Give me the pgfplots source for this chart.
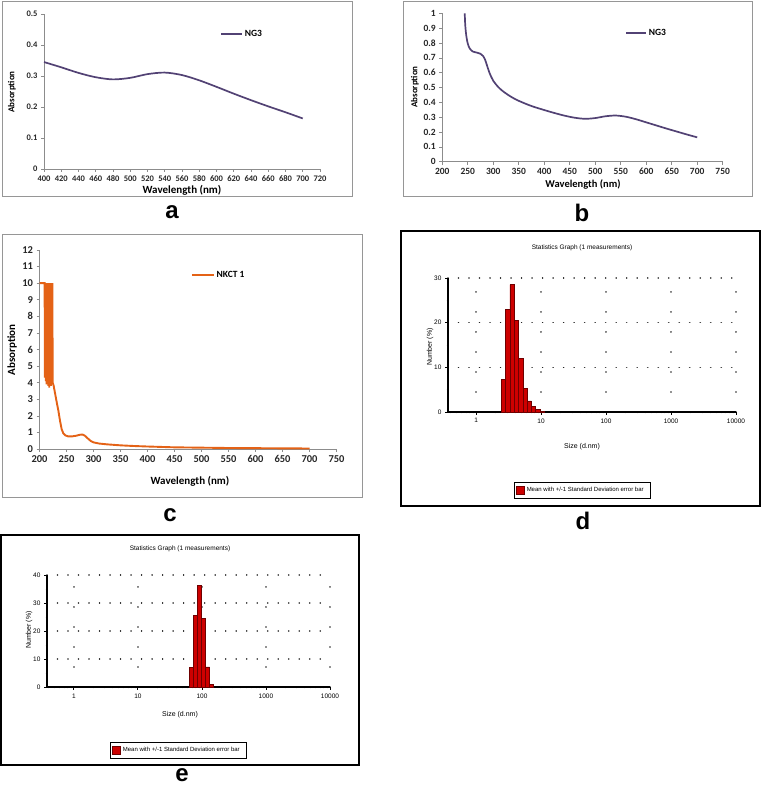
\documentclass[border=0pt]{standalone}
\usepackage{fontspec}
\setmainfont{Carlito}
\newfontfamily\arialfont{Liberation Sans}
\usepackage{pgfplots}
\pgfplotsset{compat=1.18}
\definecolor{ngpurple}{RGB}{82,66,116}
\definecolor{nkorange}{RGB}{228,98,22}
\definecolor{framegray}{RGB}{150,150,150}
\definecolor{axgray}{RGB}{140,140,140}
\definecolor{barred}{RGB}{205,0,0}
\definecolor{bardark}{RGB}{110,0,0}
\pgfplotsset{
  excel/.style={scale only axis, anchor=south west, axis lines*=left,
    axis line style={axgray, line width=0.8pt, -},
    tick align=outside, major tick length=3pt,
    tick style={axgray, line width=0.6pt},
    /pgf/number format/assume math mode=true,
    ticklabel style={text=black!85},
    legend style={draw=none, fill=none, inner sep=0pt, anchor=west},
    clip=false},
  dls/.style={scale only axis, anchor=south west, axis lines*=left,
    axis line style={black, line width=1.5pt, -},
    xtick={1,10,100,1000,10000}, xticklabels={1,10,100,1000,10000},
    minor xtick={0.4,0.5,0.6,0.7,0.8,0.9,2,3,4,5,6,7,8,9,20,30,40,50,60,70,80,90,200,300,400,500,600,700,800,900,2000,3000,4000,5000,6000,7000,8000,9000},
    tick align=outside, major tick length=3pt, minor tick length=1.5pt,
    tick style={black, line width=0.9pt},
    /pgf/number format/assume math mode=true,
    ticklabel style={font=\arialfont\fontsize{6.5}{7}\selectfont},
    grid=major,
    x grid style={black!85, line width=1.6pt, line cap=round, dash pattern=on 0.01pt off 20pt},
    y grid style={black!85, line width=1.6pt, line cap=round, dash pattern=on 0.01pt off 10.5pt},
    legend style={draw=black, line width=1pt, fill=white, anchor=center, inner xsep=2pt, inner ysep=3pt,
      font=\arialfont\fontsize{6}{7}\selectfont},
    clip=false}
}
\begin{document}
\begin{tikzpicture}[x=1pt,y=1pt]
\useasboundingbox (0,0) rectangle (761,786);
% frames
\draw[framegray, line width=1pt] (2,784) rectangle (352,589);
\draw[framegray, line width=1pt] (403,784) rectangle (752,589);
\draw[framegray, line width=1pt] (2,551) rectangle (362,288);
\draw[black, line width=1.6pt] (401,555) rectangle (760,280);
\draw[black, line width=1.6pt] (1,251) rectangle (359,21);

% ---------- a ----------
\begin{axis}[excel, at={(44pt,617pt)}, width=276pt, height=155pt,
  xmin=400, xmax=720, ymin=0, ymax=0.5,
  xtick={400,420,440,460,480,500,520,540,560,580,600,620,640,660,680,700,720},
  ytick={0,0.1,0.2,0.3,0.4,0.5},
  yticklabel style={/pgf/number format/fixed, /pgf/number format/precision=1},
  ticklabel style={font=\bfseries\fontsize{8.5}{9}\selectfont},
  legend style={at={(0.638,0.871)}, font=\bfseries\fontsize{9.5}{10}\selectfont},
  legend image code/.code={\draw[ngpurple, line width=1.6pt] (0pt,0pt) -- (21pt,0pt);}]
\addplot[ngpurple, line width=1.7pt, smooth] coordinates {
(400,0.345) (420,0.328) (440,0.310) (460,0.296) (480,0.289) (500,0.294)
(520,0.306) (540,0.311) (560,0.303) (580,0.286) (600,0.265) (620,0.243)
(640,0.222) (660,0.202) (680,0.183) (700,0.163)};
\addlegendentry{NG3}
\end{axis}

% ---------- b ----------
\begin{axis}[excel, at={(442.3pt,624.3pt)}, width=280.4pt, height=148.4pt,
  xmin=200, xmax=750, ymin=0, ymax=1,
  xtick={200,250,300,350,400,450,500,550,600,650,700,750},
  ytick={0,0.1,0.2,0.3,0.4,0.5,0.6,0.7,0.8,0.9,1},
  yticklabel style={/pgf/number format/fixed, /pgf/number format/precision=1},
  ticklabel style={font=\bfseries\fontsize{9.5}{10}\selectfont},
  legend style={at={(0.652,0.867)}, font=\bfseries\fontsize{9.5}{10}\selectfont},
  legend image code/.code={\draw[ngpurple, line width=1.6pt] (0pt,0pt) -- (20pt,0pt);}]
\addplot[ngpurple, line width=1.7pt, smooth, tension=0.5] coordinates {
(244,1.0) (245,0.92) (247,0.85) (250,0.795) (254,0.762) (260,0.742) (268,0.735)
(275,0.727) (280,0.712) (284,0.687) (288,0.645) (293,0.595) (300,0.545)
(310,0.502) (320,0.472) (335,0.437) (350,0.410) (375,0.375) (400,0.348)
(420,0.328) (440,0.310) (460,0.296) (480,0.289) (500,0.294) (520,0.306)
(540,0.311) (560,0.303) (580,0.286) (600,0.265) (620,0.244) (640,0.223)
(660,0.203) (680,0.183) (700,0.164)};
\addlegendentry{NG3}
\end{axis}

% ---------- c ----------
\begin{axis}[excel, at={(39.5pt,337pt)}, width=297pt, height=199pt,
  xmin=200, xmax=750, ymin=0, ymax=12,
  xtick={200,250,300,350,400,450,500,550,600,650,700,750},
  ytick={0,1,2,3,4,5,6,7,8,9,10,11,12},
  ticklabel style={font=\bfseries\fontsize{10.5}{11}\selectfont},
  legend style={at={(0.509,0.874)}, font=\bfseries\fontsize{9.5}{10}\selectfont},
  legend image code/.code={\draw[nkorange, line width=1.8pt] (0pt,0pt) -- (22pt,0pt);}]
\addplot[nkorange, line width=1.9pt] coordinates {
(200,10) (209.5,10) (210,4.3) (210.4,10) (210.8,4.5) (211.2,10) (211.6,4.1)
(212,10) (212.4,4.4) (212.8,10) (213.2,3.9) (213.6,10) (214,4.2) (214.4,10)
(214.8,4.0) (215.2,10) (215.6,4.3) (216,10) (216.4,3.8) (216.8,10) (217.2,4.1)
(217.6,10) (218,3.7) (218.4,10) (218.8,4.0) (219.2,10) (219.6,3.9) (220,10)
(220.4,4.2) (220.8,10) (221.2,3.8) (221.6,10) (222,4.0) (222.4,10) (222.8,3.9)
(223.2,10) (223.6,4.1) (224,10) (224.3,4.0) (226,3.85) (228,3.5) (232,2.8)
(235,2.3) (238,1.7) (241,1.2) (244,0.95) (248,0.82) (253,0.76) (260,0.76)
(268,0.80) (275,0.86) (280,0.87) (284,0.80) (290,0.62) (295,0.48) (300,0.40)
(310,0.33) (325,0.28) (350,0.22) (375,0.18) (400,0.15) (450,0.10) (500,0.08)
(550,0.06) (600,0.05) (650,0.04) (700,0.03)};
\addlegendentry{NKCT 1}
\end{axis}

% ---------- d ----------
\begin{semilogxaxis}[dls, at={(448pt,374pt)}, width=288pt, height=134pt,
  xmin=0.37, xmax=10000, ymin=0, ymax=30,
  ytick={0,10,20,30}, minor ytick={5,15,25},
  legend style={at={(0.467,-0.586)}}]
\addplot[ybar interval, fill=barred, draw=bardark, line width=0.5pt,
  legend image code/.code={\fill[barred, draw=bardark] (0pt,-4pt) rectangle (8pt,4pt);}]
 coordinates {
(2.45,7.3) (2.85,22.9) (3.32,28.5) (3.87,20.5) (4.50,12.0) (5.24,5.3)
(6.10,2.5) (7.10,1.3) (8.26,0.6) (9.62,0.2) (11.2,0)};
\addlegendentry{\makebox[120pt][l]{Mean with +/-1 Standard Deviation error bar}}
\end{semilogxaxis}

% ---------- e ----------
\begin{semilogxaxis}[dls, at={(47pt,99pt)}, width=283pt, height=112pt,
  xmin=0.38, xmax=10000, ymin=0, ymax=40,
  ytick={0,10,20,30,40}, minor ytick={5,15,25,35},
  legend style={at={(0.465,-0.567)}}]
\addplot[ybar interval, fill=barred, draw=bardark, line width=0.5pt,
  legend image code/.code={\fill[barred, draw=bardark] (0pt,-4pt) rectangle (8pt,4pt);}]
 coordinates {
(64.0,6.9) (73.9,25.5) (85.3,36.3) (98.6,24.5) (113.8,7.2) (131.4,1.0) (151.7,0)};
\addlegendentry{\makebox[120pt][l]{Mean with +/-1 Standard Deviation error bar}}
\end{semilogxaxis}

% ---------- labels ----------
\node[rotate=90, font=\bfseries\fontsize{9}{10}\selectfont] at (12,694) {Absorption};
\node[font=\bfseries\fontsize{11}{12}\selectfont] at (182,595.5) {Wavelength (nm)};
\node[rotate=90, font=\bfseries\fontsize{9}{10}\selectfont] at (415,699) {Absorption};
\node[font=\bfseries\fontsize{10.5}{11}\selectfont] at (583,601) {Wavelength (nm)};
\node[rotate=90, font=\bfseries\fontsize{11}{12}\selectfont] at (12,436) {Absorption};
\node[font=\bfseries\fontsize{11}{12}\selectfont] at (190,305) {Wavelength (nm)};

\node[font=\arialfont\fontsize{6.5}{7}\selectfont] at (582,538) {Statistics Graph (1 measurements)};
\node[rotate=90, font=\arialfont\fontsize{7}{8}\selectfont] at (430,439) {Number (\%)};
\node[font=\arialfont\fontsize{7}{8}\selectfont] at (582,339) {Size (d.nm)};
\node[font=\arialfont\fontsize{6.5}{7}\selectfont] at (180,237) {Statistics Graph (1 measurements)};
\node[rotate=90, font=\arialfont\fontsize{7}{8}\selectfont] at (29,156) {Number (\%)};
\node[font=\arialfont\fontsize{7}{8}\selectfont] at (180,71) {Size (d.nm)};

\node[font=\arialfont\bfseries\fontsize{24}{26}\selectfont] at (172,574) {a};
\node[font=\arialfont\bfseries\fontsize{24}{26}\selectfont] at (582,573) {b};
\node[font=\arialfont\bfseries\fontsize{24}{26}\selectfont] at (170,271) {c};
\node[font=\arialfont\bfseries\fontsize{24}{26}\selectfont] at (583,265) {d};
\node[font=\arialfont\bfseries\fontsize{24}{26}\selectfont, inner sep=0pt] at (182,11) {e};
\end{tikzpicture}
\end{document}
